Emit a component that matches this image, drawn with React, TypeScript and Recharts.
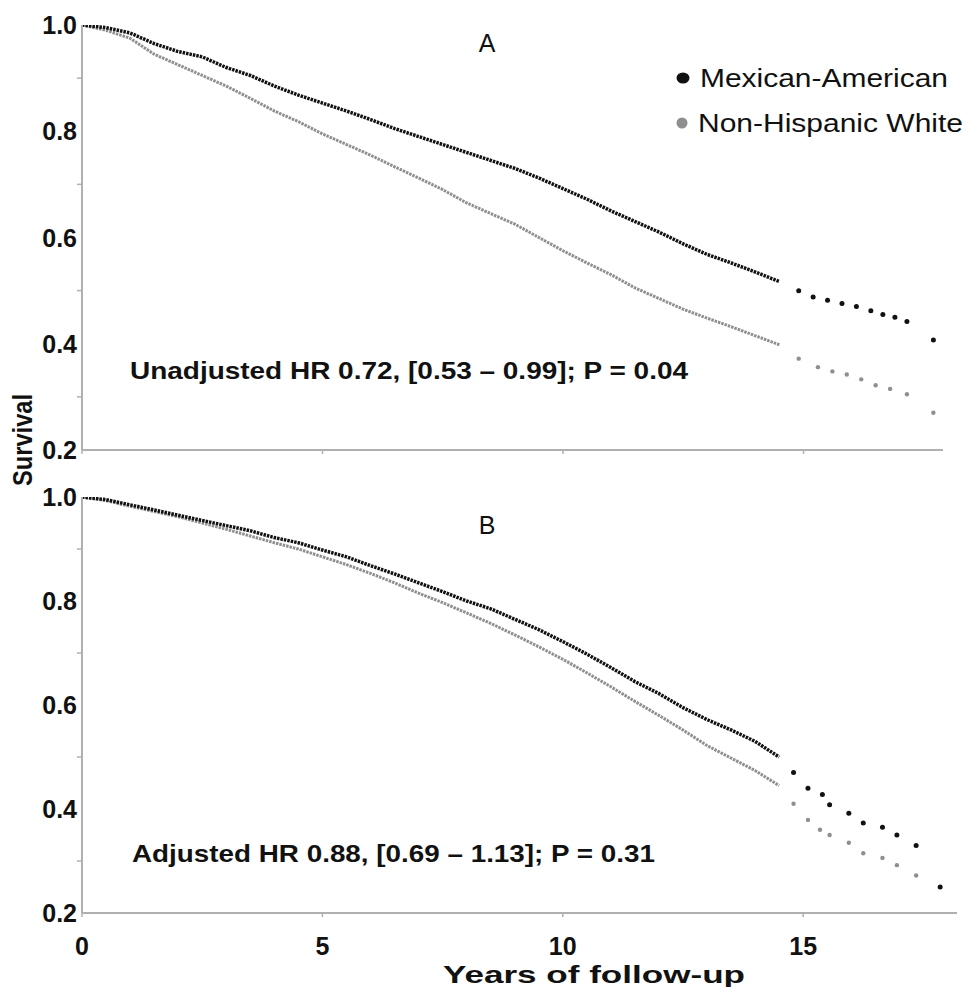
import React from 'react';
import { LineChart, Line, XAxis, YAxis } from 'recharts';

// Years of follow-up for the continuous part of the curves
const years = [0, 0.5, 1, 1.5, 2, 2.5, 3, 3.5, 4, 4.5, 5, 5.5, 6, 6.5, 7, 7.5, 8, 8.5, 9, 9.5, 10, 10.5, 11, 11.5, 12, 12.5, 13, 13.5, 14, 14.5];

// Panel A (unadjusted)
const topMexicanAmerican = [1.0, 0.995, 0.985, 0.965, 0.95, 0.94, 0.92, 0.905, 0.885, 0.868, 0.853, 0.838, 0.822, 0.805, 0.79, 0.775, 0.76, 0.745, 0.73, 0.712, 0.692, 0.672, 0.65, 0.63, 0.61, 0.588, 0.568, 0.552, 0.535, 0.517];
const topNonHispanicWhite = [1.0, 0.99, 0.975, 0.945, 0.925, 0.905, 0.885, 0.862, 0.838, 0.818, 0.795, 0.775, 0.755, 0.733, 0.712, 0.69, 0.665, 0.645, 0.625, 0.6, 0.575, 0.552, 0.53, 0.505, 0.485, 0.465, 0.448, 0.432, 0.415, 0.398];
const topTailYearsMA = [14.9, 15.2, 15.5, 15.8, 16.1, 16.4, 16.65, 16.9, 17.15, 17.7];
const topTailMA = [0.5, 0.488, 0.482, 0.476, 0.47, 0.462, 0.455, 0.45, 0.442, 0.407];
const topTailYearsNHW = [14.9, 15.3, 15.6, 15.9, 16.2, 16.5, 16.8, 17.15, 17.7];
const topTailNHW = [0.372, 0.356, 0.348, 0.342, 0.333, 0.322, 0.315, 0.305, 0.27];

// Panel B (adjusted)
const botMexicanAmerican = [1.0, 0.995, 0.985, 0.975, 0.965, 0.955, 0.945, 0.935, 0.922, 0.912, 0.898, 0.885, 0.868, 0.852, 0.835, 0.818, 0.8, 0.785, 0.765, 0.745, 0.722, 0.698, 0.672, 0.645, 0.622, 0.595, 0.572, 0.552, 0.53, 0.5];
const botNonHispanicWhite = [1.0, 0.993, 0.982, 0.972, 0.962, 0.95, 0.938, 0.925, 0.912, 0.9, 0.885, 0.87, 0.853, 0.835, 0.815, 0.797, 0.777, 0.757, 0.735, 0.712, 0.688, 0.662, 0.635, 0.607, 0.58, 0.552, 0.522, 0.498, 0.474, 0.445];
const botTailYearsMA = [14.8, 15.1, 15.4, 15.55, 15.95, 16.25, 16.65, 16.95, 17.35, 17.85];
const botTailMA = [0.47, 0.44, 0.428, 0.408, 0.392, 0.373, 0.365, 0.35, 0.33, 0.25];
const botTailYearsNHW = [14.8, 15.1, 15.35, 15.55, 15.95, 16.25, 16.65, 16.95, 17.35];
const botTailNHW = [0.41, 0.379, 0.36, 0.35, 0.335, 0.315, 0.306, 0.292, 0.272];

const xTicks = [0, 5, 10, 15];
const yTicks = [0.2, 0.3, 0.4, 0.5, 0.6, 0.7, 0.8, 0.9, 1.0];
const seriesNames = ['Mexican-American', 'Non-Hispanic White'];
const panelTitles = ['A', 'B'];
const annotations = ['Unadjusted HR 0.72, [0.53 \u2013 0.99]; P = 0.04', 'Adjusted HR 0.88, [0.69 \u2013 1.13]; P = 0.31'];

const FONT = "'Liberation Sans', Arial, sans-serif";
const BLACK = '#111111';
const GRAY = '#8f8f8f';
const AXIS = '#b0b0b0';

const toPoints = (xs: number[], ys: number[]) => xs.map((t, i) => ({ t, s: ys[i] }));

const YTick = (props: any) => {
  const { x, y, payload } = props;
  const v = payload.value;
  const major = Math.round(v * 10) % 2 === 0;
  if (!major) {
    return <line x1={x - 5} x2={x} y1={y} y2={y} stroke={AXIS} strokeWidth={1.5} />;
  }
  return (
    <text x={x - 5} y={y} dy="0.36em" textAnchor="end" fontFamily={FONT} fontWeight="bold" fontSize={25} fill={BLACK}>
      {v.toFixed(1)}
    </text>
  );
};

const makeXTick = (showLabel: boolean) => (props: any) => {
  const { x, y, payload } = props;
  return (
    <g>
      <line x1={x} x2={x} y1={y} y2={y + 4} stroke={AXIS} strokeWidth={1.5} />
      {showLabel && (
        <text x={x} y={y + 33} dy="0.36em" textAnchor="middle" fontFamily={FONT} fontWeight="bold" fontSize={25} fill={BLACK}>
          {payload.value}
        </text>
      )}
    </g>
  );
};

type PanelProps = {
  top: number;
  height: number;
  margin: { top: number; right: number; bottom: number; left: number };
  xMax: number;
  ma: number[];
  nhw: number[];
  tailYearsMA: number[];
  tailMA: number[];
  tailYearsNHW: number[];
  tailNHW: number[];
  showXLabels: boolean;
};

const Panel = (p: PanelProps) => (
  <div style={{ position: 'absolute', left: 0, top: p.top }}>
    <LineChart width={967} height={p.height} margin={p.margin}>
      <XAxis
        type="number"
        dataKey="t"
        domain={[0, p.xMax]}
        allowDataOverflow
        ticks={xTicks}
        interval={0}
        height={1}
        tickSize={0}
        tickMargin={0}
        axisLine={{ stroke: AXIS, strokeWidth: 2 }}
        tickLine={false}
        tick={makeXTick(p.showXLabels)}
      />
      <YAxis
        type="number"
        dataKey="s"
        domain={[0.2, 1.0]}
        allowDataOverflow
        ticks={yTicks}
        interval={0}
        width={1}
        tickSize={0}
        tickMargin={0}
        axisLine={{ stroke: AXIS, strokeWidth: 2 }}
        tickLine={false}
        tick={YTick}
      />
      <Line data={toPoints(years, p.nhw)} dataKey="s" type="linear" stroke={GRAY} strokeWidth={3} strokeDasharray="2.5 1" dot={false} isAnimationActive={false} />
      <Line data={toPoints(years, p.ma)} dataKey="s" type="linear" stroke={BLACK} strokeWidth={3.5} strokeDasharray="2.5 1" dot={false} isAnimationActive={false} />
      <Line data={toPoints(p.tailYearsNHW, p.tailNHW)} dataKey="s" type="linear" stroke="none" dot={{ r: 2.2, fill: GRAY, stroke: 'none' }} isAnimationActive={false} />
      <Line data={toPoints(p.tailYearsMA, p.tailMA)} dataKey="s" type="linear" stroke="none" dot={{ r: 2.5, fill: BLACK, stroke: 'none' }} isAnimationActive={false} />
    </LineChart>
  </div>
);

export default function App() {
  return (
    <div style={{ position: 'absolute', left: 0, top: 0, width: 967, height: 987, background: '#fff', overflow: 'hidden' }}>
      <Panel
        top={0}
        height={475}
        margin={{ top: 25, right: 24, bottom: 24, left: 81 }}
        xMax={17.9}
        ma={topMexicanAmerican}
        nhw={topNonHispanicWhite}
        tailYearsMA={topTailYearsMA}
        tailMA={topTailMA}
        tailYearsNHW={topTailYearsNHW}
        tailNHW={topTailNHW}
        showXLabels={false}
      />
      <Panel
        top={470}
        height={517}
        margin={{ top: 27, right: 10, bottom: 73, left: 81 }}
        xMax={18.2}
        ma={botMexicanAmerican}
        nhw={botNonHispanicWhite}
        tailYearsMA={botTailYearsMA}
        tailMA={botTailMA}
        tailYearsNHW={botTailYearsNHW}
        tailNHW={botTailNHW}
        showXLabels={true}
      />
      <svg width={967} height={987} style={{ position: 'absolute', left: 0, top: 0, pointerEvents: 'none' }}>
        <text x={487} y={43} dy="0.36em" textAnchor="middle" fontFamily={FONT} fontSize={25} fill={BLACK}>{panelTitles[0]}</text>
        <text x={487} y={525} dy="0.36em" textAnchor="middle" fontFamily={FONT} fontSize={25} fill={BLACK}>{panelTitles[1]}</text>
        <ellipse cx={683} cy={78} rx={6.5} ry={5.5} fill={BLACK} />
        <text x={700} y={78} dy="0.36em" fontFamily={FONT} fontSize={25} fill={BLACK} textLength={248} lengthAdjust="spacingAndGlyphs">{seriesNames[0]}</text>
        <circle cx={682} cy={123} r={5.5} fill={GRAY} />
        <text x={698} y={123} dy="0.36em" fontFamily={FONT} fontSize={25} fill={BLACK} textLength={265} lengthAdjust="spacingAndGlyphs">{seriesNames[1]}</text>
        <text x={130} y={370} dy="0.36em" fontFamily={FONT} fontWeight="bold" fontSize={24} fill={BLACK} textLength={558} lengthAdjust="spacingAndGlyphs">{annotations[0]}</text>
        <text x={132} y={853} dy="0.36em" fontFamily={FONT} fontWeight="bold" fontSize={24} fill={BLACK} textLength={523} lengthAdjust="spacingAndGlyphs">{annotations[1]}</text>
        <text x={594} y={974} dy="0.36em" textAnchor="middle" fontFamily={FONT} fontWeight="bold" fontSize={24} fill={BLACK} textLength={302} lengthAdjust="spacingAndGlyphs">Years of follow-up</text>
        <text transform="translate(22,440) rotate(-90)" x={0} y={0} dy="0.36em" textAnchor="middle" fontFamily={FONT} fontWeight="bold" fontSize={27} fill={BLACK} textLength={92} lengthAdjust="spacingAndGlyphs">Survival</text>
      </svg>
    </div>
  );
}
